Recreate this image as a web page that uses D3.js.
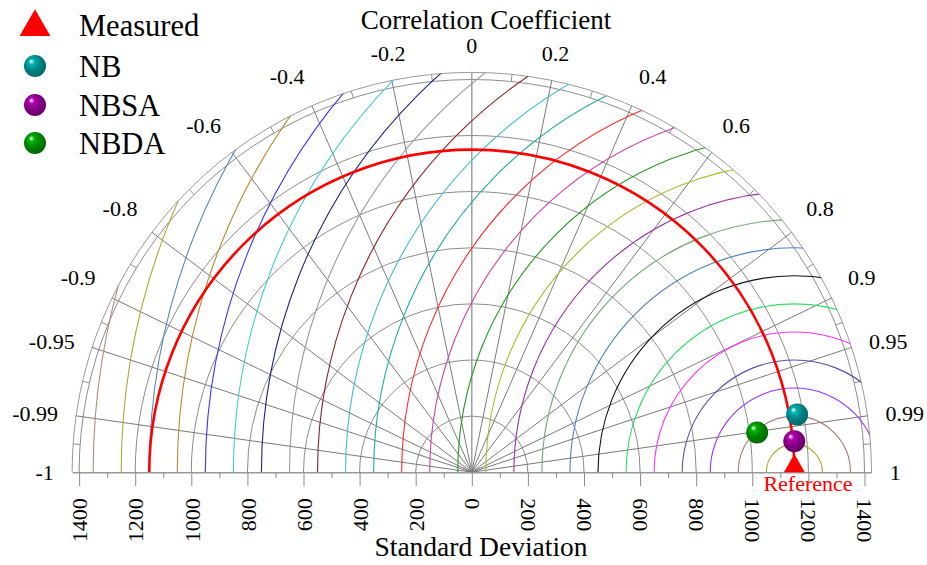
<!DOCTYPE html>
<html>
<head>
<meta charset="utf-8">
<script src="https://cdn.jsdelivr.net/npm/d3@7"></script>
<style>
  html, body { margin: 0; padding: 0; background: #ffffff; }
  svg { display: block; }
</style>
</head>
<body>
<svg id="chart" width="927" height="565"></svg>
<script>
// ---- data ----
const modelNames  = ["NB", "NBSA", "NBDA"];
const modelSd     = [1178, 1155, 1027];
const modelCorr   = [0.9846, 0.9954, 0.9905];
const modelColors = ["#008080", "#800080", "#008000"];

const refName = "Measured";
const refSd   = 1150;

const corrTicks = [-1, -0.99, -0.95, -0.9, -0.8, -0.6, -0.4, -0.2, 0,
                   0.2, 0.4, 0.6, 0.8, 0.9, 0.95, 0.99, 1];
const sdTicks      = [-1400, -1200, -1000, -800, -600, -400, -200, 0,
                      200, 400, 600, 800, 1000, 1200, 1400];
const sdMinorTicks = [-1300, -1100, -900, -700, -500, -300, -100,
                      100, 300, 500, 700, 900, 1100, 1300];
const sdArcs = [200, 400, 600, 800, 1000, 1200, 1400];

const rmsLevels = [100, 200, 300, 400, 500, 600, 700, 800, 900, 1000,
                   1100, 1200, 1300, 1400, 1500, 1600, 1700, 1800, 1900, 2000,
                   2100, 2200, 2300, 2400, 2500];
const rmsColors = ["#a8a82a", "#a87878", "#9933ff", "#5252a8", "#ff33ff",
                   "#33dd66", "#111111", "#4a7fc0", "#72a872", "#9933aa",
                   "#aabb33", "#229922", "#cc44aa", "#ff2a2a", "#22a8a8",
                   "#44bbdd", "#882222", "#9a9a9a", "#222288", "#44cccc",
                   "#3333ff", "#bb8833", "#5588bb", "#aaaa33", "#bb8888"];

// ---- geometry ----
const svg = d3.select("#chart");
const cx = 471.8, cy = 472.2;
const sdMax = 1425;
const r = d3.scaleLinear().domain([0, sdMax]).range([0, 399.7]);
const R = r(sdMax);
const grid = "#8c8c8c";
const serif = "'Liberation Serif', 'Times New Roman', serif";

function polar(sd, corr) {
  const t = Math.acos(corr);
  return [cx + r(sd) * Math.cos(t), cy - r(sd) * Math.sin(t)];
}
function upperArc(x, y, rad) {
  const p = d3.path();
  p.moveTo(x - rad, y);
  p.arc(x, y, rad, Math.PI, 2 * Math.PI);
  return p.toString();
}

// clip region: the upper half disc of the diagram
const defs = svg.append("defs");
defs.append("clipPath").attr("id", "half-disc")
  .append("path")
  .attr("d", upperArc(cx, cy, R) + "Z");

// sphere shading for the model markers
modelColors.forEach((c, i) => {
  const g = defs.append("radialGradient").attr("id", "ball" + i)
    .attr("cx", "45%").attr("cy", "42%").attr("r", "60%")
    .attr("fx", "32%").attr("fy", "28%");
  const base = d3.color(c);
  g.append("stop").attr("offset", "0%").attr("stop-color", "#ffffff");
  g.append("stop").attr("offset", "22%").attr("stop-color", base.brighter(0.9));
  g.append("stop").attr("offset", "60%").attr("stop-color", base);
  g.append("stop").attr("offset", "100%").attr("stop-color", base.darker(0.6));
});

// ---- grid: standard deviation arcs ----
const gGrid = svg.append("g").attr("fill", "none").attr("stroke", grid).attr("stroke-width", 1);
gGrid.selectAll("path.sd").data(sdArcs).join("path")
  .attr("class", "sd")
  .attr("d", d => upperArc(cx, cy, r(d)));
gGrid.append("path").attr("d", upperArc(cx, cy, R)).attr("stroke", "#9a9a9a");

// radial correlation lines
gGrid.selectAll("line.corr").data(corrTicks.filter(c => Math.abs(c) < 1)).join("line")
  .attr("class", "corr")
  .attr("x1", cx).attr("y1", cy)
  .attr("x2", d => polar(sdMax, d)[0])
  .attr("y2", d => polar(sdMax, d)[1])
  .attr("stroke", d => d === 0 ? "#9a9a9a" : "#7a7a7a")
  .attr("stroke-width", d => d === 0 ? 1.4 : 1);

// minor rim ticks, halfway in angle between labelled correlations
const minorCorr = d3.pairs(corrTicks).map(([a, b]) => Math.cos((Math.acos(a) + Math.acos(b)) / 2));
gGrid.selectAll("line.minor").data(minorCorr).join("line")
  .attr("class", "minor")
  .attr("x1", d => polar(1400, d)[0]).attr("y1", d => polar(1400, d)[1])
  .attr("x2", d => polar(sdMax, d)[0]).attr("y2", d => polar(sdMax, d)[1]);

// ---- centred RMS difference contours ----
const refX = cx + r(refSd);
svg.append("g").attr("clip-path", "url(#half-disc)").attr("fill", "none")
  .selectAll("path").data(rmsLevels).join("path")
  .attr("d", d => upperArc(refX, cy, r(d)))
  .attr("stroke", (d, i) => rmsColors[i])
  .attr("stroke-width", 1.1);

// reference standard deviation arc
svg.append("path")
  .attr("d", upperArc(cx, cy, r(refSd)))
  .attr("fill", "none").attr("stroke", "#ff0000").attr("stroke-width", 2.6);

// ---- standard deviation axis along the base ----
const xs = d3.scaleLinear().domain([-sdMax, sdMax]).range([cx - R, cx + R]);
const axisG = svg.append("g").attr("transform", `translate(0,${cy})`)
  .call(d3.axisBottom(xs).tickValues(sdTicks).tickSize(14).tickSizeOuter(0)
        .tickFormat(d => Math.abs(d)));
axisG.select(".domain").attr("stroke", "#999999").attr("stroke-width", 1.4);
axisG.selectAll(".tick line").attr("stroke", grid);
axisG.selectAll(".tick text")
  .attr("fill", "#000")
  .style("font-family", serif).style("font-size", "22px")
  .attr("x", 0).attr("y", 0).attr("dy", "0.35em")
  .attr("text-anchor", d => d < 0 ? "end" : "start")
  .attr("transform", d => `translate(0,26) rotate(${d < 0 ? -90 : 90})`);
axisG.attr("font-family", null).attr("font-size", null);

const minorG = svg.append("g").attr("transform", `translate(0,${cy})`)
  .call(d3.axisBottom(xs).tickValues(sdMinorTicks).tickSize(6).tickSizeOuter(0).tickFormat(""));
minorG.select(".domain").remove();
minorG.selectAll(".tick line").attr("stroke", grid);

// ---- correlation labels ----
const labelR = 418;
svg.append("g").selectAll("text").data(corrTicks).join("text")
  .each(function (d) {
    const t = Math.acos(d);
    const px = cx + labelR * Math.cos(t), py = cy - labelR * Math.sin(t);
    const sel = d3.select(this);
    const centred = Math.abs(d) < 0.3;
    const anchor = centred ? "middle" : (d > 0 ? "start" : "end");
    sel.attr("x", px).attr("text-anchor", anchor);
    if (Math.abs(d) >= 0.95) sel.attr("y", py).attr("dy", "0.34em");
    else sel.attr("y", py - (centred ? 1.5 : 5));
  })
  .text(d => String(d))
  .style("font-family", serif).style("font-size", "22px").attr("fill", "#000");

// axis titles
svg.append("text").attr("x", 486).attr("y", 28.5).attr("text-anchor", "middle")
  .style("font-family", serif).style("font-size", "27px").text("Correlation Coefficient");
svg.append("text").attr("x", 481).attr("y", 556).attr("text-anchor", "middle")
  .style("font-family", serif).style("font-size", "27.5px").text("Standard Deviation");

// ---- reference point ----
const triW = 21, triY = triW / (2 * Math.sqrt(3));
svg.append("path")
  .attr("d", d3.symbol(d3.symbolTriangle, triY * triY * 3 * Math.sqrt(3))())
  .attr("transform", `translate(${polar(refSd, 1)[0]},${cy - triY})`)
  .attr("fill", "#ff0000");
svg.append("text").attr("x", 808).attr("y", 491).attr("text-anchor", "middle")
  .style("font-family", serif).style("font-size", "22px").attr("fill", "#ff0000")
  .text("Reference");

// ---- model points ----
svg.append("g").selectAll("circle").data(modelNames).join("circle")
  .attr("cx", (d, i) => polar(modelSd[i], modelCorr[i])[0])
  .attr("cy", (d, i) => polar(modelSd[i], modelCorr[i])[1])
  .attr("r", 11)
  .attr("fill", (d, i) => `url(#ball${i})`);

// ---- legend ----
const legend = svg.append("g");
const legTriY = 8.9;
legend.append("path")
  .attr("d", d3.symbol(d3.symbolTriangle, legTriY * legTriY * 3 * Math.sqrt(3))())
  .attr("transform", `translate(35,${36 - legTriY})`)
  .attr("fill", "#ff0000");
legend.append("text").attr("x", 79).attr("y", 36)
  .style("font-family", serif).style("font-size", "30.5px").text(refName);
const legY = [66, 105, 143];
legend.selectAll("circle").data(modelNames).join("circle")
  .attr("cx", 35).attr("cy", (d, i) => legY[i]).attr("r", 11)
  .attr("fill", (d, i) => `url(#ball${i})`);
legend.selectAll("text.m").data(modelNames).join("text")
  .attr("class", "m")
  .attr("x", 79).attr("y", (d, i) => legY[i] + 10.5)
  .style("font-family", serif).style("font-size", "30.5px")
  .text(d => d);
</script>
</body>
</html>
